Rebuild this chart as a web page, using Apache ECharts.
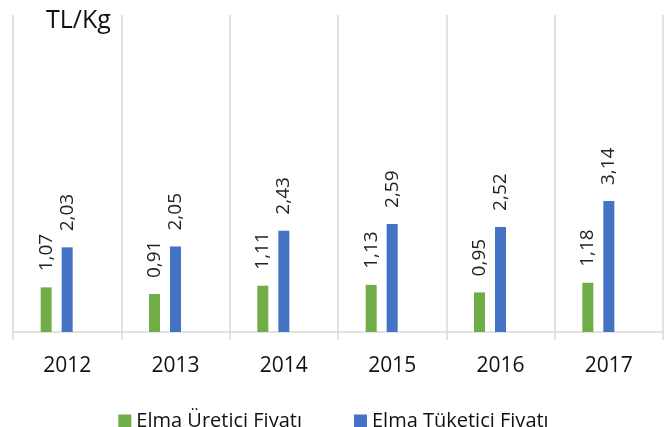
<!DOCTYPE html>
<html>
<head>
<meta charset="utf-8">
<script src="https://cdn.jsdelivr.net/npm/echarts@6/dist/echarts.min.js"></script>
<style>html,body{margin:0;padding:0;background:#fff}#c{width:667px;height:427px}</style>
</head>
<body>
<div id="c"></div>
<script>
var years = ['2012', '2013', '2014', '2015', '2016', '2017'];
var ureticiFiyati = [1.07, 0.91, 1.11, 1.13, 0.95, 1.18];
var tuketiciFiyati = [2.03, 2.05, 2.43, 2.59, 2.52, 3.14];
var seriesNames = ['Elma Üretici Fiyatı', 'Elma Tüketici Fiyatı'];
var unitLabel = 'TL/Kg';

var chart = echarts.init(document.getElementById('c'), null, {renderer: 'canvas'});
var FONT = 'Open Sans';
function fmt(p) { return p.value.toFixed(2).replace('.', ','); }
var labelOpt = {
  show: true, position: 'top', rotate: 90, align: 'left', verticalAlign: 'middle',
  distance: 16, formatter: fmt, fontFamily: FONT, fontSize: 19, color: '#222'
};
chart.setOption({
  animation: false,
  textStyle: {fontFamily: FONT},
  title: {
    text: unitLabel, left: 41, top: 3,
    textStyle: {fontFamily: FONT, fontSize: 25, fontWeight: 'normal', color: '#111'}
  },
  legend: {
    data: seriesNames, top: 406, left: 'center', itemWidth: 13, itemHeight: 13,
    itemGap: 52, icon: 'rect',
    textStyle: {fontFamily: FONT, fontSize: 20, color: '#111'}
  },
  grid: {left: 13, right: 4, top: 15, bottom: 95, containLabel: false},
  xAxis: {
    type: 'category', data: years, boundaryGap: true,
    axisLine: {show: true, lineStyle: {color: '#d9d9d9', width: 1.5}},
    axisTick: {show: true, length: 8, lineStyle: {color: '#d9d9d9', width: 1.5}},
    splitLine: {show: true, lineStyle: {color: '#d9d9d9', width: 1.5}},
    axisLabel: {margin: 24, fontFamily: FONT, fontSize: 21, color: '#111'}
  },
  yAxis: {
    type: 'value', min: 0, max: 7.6, show: false,
    splitLine: {show: false}
  },
  series: [
    {name: seriesNames[0], type: 'bar', data: ureticiFiyati, barWidth: 11, barGap: '91%',
     itemStyle: {color: '#70AD47'}, label: labelOpt},
    {name: seriesNames[1], type: 'bar', data: tuketiciFiyati, barWidth: 11, barGap: '91%',
     itemStyle: {color: '#4472C4'}, label: labelOpt},
    {name: 'bos', type: 'bar', data: [], barWidth: 11, barGap: '91%'}
  ]
});
</script>
</body>
</html>
